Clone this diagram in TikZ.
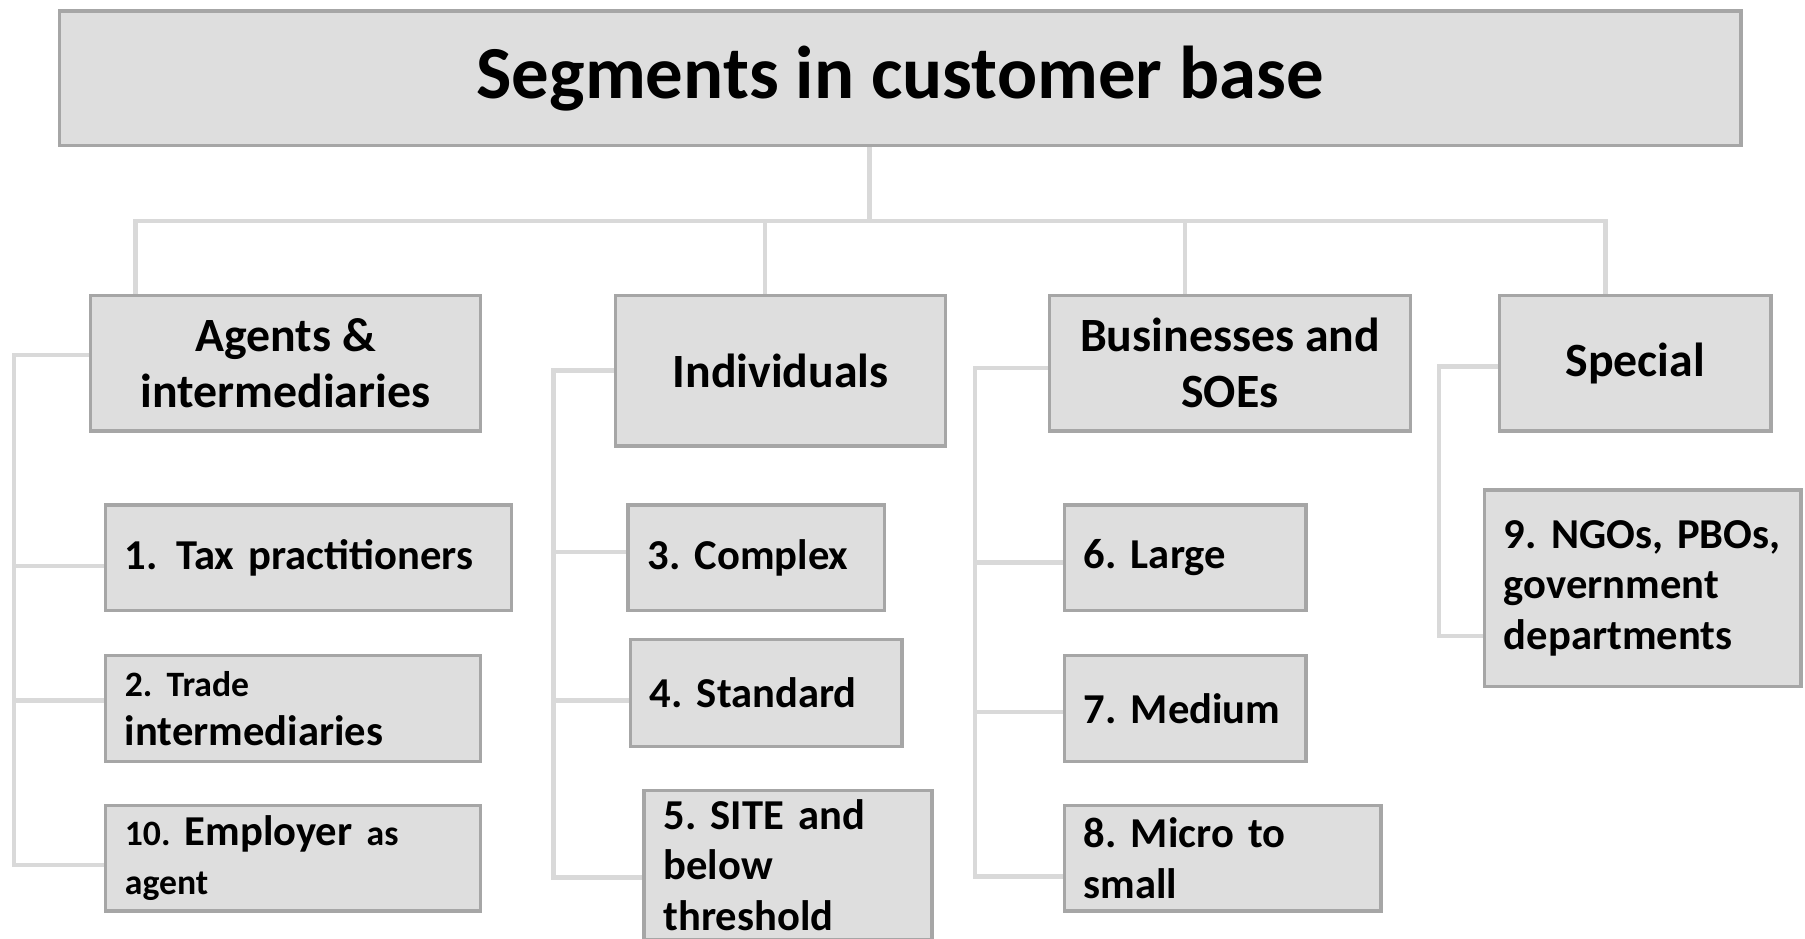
\documentclass[tikz,border=0pt]{standalone}
\usepackage{fontspec}
\setmainfont{Carlito}
\usetikzlibrary{backgrounds}
\definecolor{boxfill}{HTML}{DEDEDE}
\definecolor{boxline}{HTML}{A6A6A6}
\definecolor{connline}{HTML}{D9D9D9}
\frenchspacing
\newcommand{\smalltxt}[1]{{\fontsize{31}{42}\selectfont #1}}
\newcommand{\tightsp}{\spaceskip=0.2em\relax}
\begin{document}
\begin{tikzpicture}[x=1pt,y=-1pt,
  box/.style={draw=boxline,fill=boxfill,line width=3pt,rectangle,anchor=north west,inner ysep=0pt,font=\bfseries},
  headbox/.style={box,align=center,font=\bfseries\fontsize{41.5}{49}\selectfont},
  itembox/.style={box,align=left,inner xsep=17pt,font=\bfseries\fontsize{37}{44}\selectfont\tightsp},
  conn/.style={draw=connline,line width=4pt}]
\clip (0,0) rectangle (1568,815);
\useasboundingbox (0,0) rectangle (1568,815);
\node[box,minimum width=1461pt,minimum height=117pt,font=\bfseries\fontsize{65}{78}\selectfont] (title) at (50,8) {Segments in customer base};
\node[headbox,minimum width=339pt,minimum height=118pt] (agents) at (77,255) {Agents \&\\intermediaries};
\node[headbox,minimum width=287pt,minimum height=131pt] (indiv) at (533,255) {Individuals};
\node[headbox,minimum width=314pt,minimum height=118pt] (bus) at (910,255) {Businesses and\\SOEs};
\node[headbox,minimum width=236pt,minimum height=118pt] (spec) at (1301,255) {Special};
\node[itembox,text width=319pt,minimum height=92pt] (t1) at (90,437) {1.\kern16pt Tax practitioners};
\node[itembox,text width=292pt,minimum height=92pt,font=\bfseries\fontsize{37}{42}\selectfont\tightsp] (t2) at (90,568) {\smalltxt{2. Trade}\\intermediaries};
\node[itembox,text width=292pt,minimum height=92pt,font=\bfseries\fontsize{37}{42}\selectfont\tightsp] (t10) at (90,698) {\smalltxt{10.} Employer \smalltxt{as}\\\smalltxt{agent}};
\node[itembox,text width=189pt,minimum height=92pt] (t3) at (544,437) {3. Complex};
\node[itembox,text width=202pt,minimum height=93pt] (t4) at (546,554) {4. Standard};
\node[itembox,text width=216pt,minimum height=130pt] (t5) at (558,685) {5. SITE and\\below\\threshold};
\node[itembox,text width=176pt,minimum height=92pt] (t6) at (923,437) {6. Large};
\node[itembox,text width=176pt,minimum height=92pt] (t7) at (923,568) {7. Medium};
\node[itembox,text width=241pt,minimum height=92pt] (t8) at (923,698) {8. Micro to\\small};
\node[itembox,text width=241pt,minimum height=171pt] (t9) at (1288,424) {9. NGOs, PBOs,\\government\\departments};
\begin{pgfonlayer}{background}
\coordinate (hub) at ([xshift=-26.5pt,yshift=-64pt]title.south);
\draw[conn] ([xshift=-26.5pt]title.south) -- (hub);
\draw[conn] (hub) -| ([xshift=-130.5pt]agents.north);
\draw[conn] (hub) -| ([xshift=-13.5pt]indiv.north);
\draw[conn] (hub) -| ([xshift=-39pt]bus.north);
\draw[conn] (hub) -| ([xshift=-26pt]spec.north);
\draw[conn] ([yshift=7pt]agents.west) -- ++(-65,0) |- ([yshift=-7pt]t1.west);
\draw[conn] ([yshift=7pt]agents.west) -- ++(-65,0) |- ([yshift=7pt]t2.west);
\draw[conn] ([yshift=7pt]agents.west) -- ++(-65,0) |- ([yshift=-6pt]t10.west);
\draw[conn] (indiv.west) -- ++(-52,0) |- ([yshift=5pt]t3.west);
\draw[conn] (indiv.west) -- ++(-52,0) |- ([yshift=-6.5pt]t4.west);
\draw[conn] (indiv.west) -- ++(-52,0) |- ([yshift=-11pt]t5.west);
\draw[conn] ([yshift=-4pt]bus.west) -- ++(-63,0) |- ([yshift=-4pt]t6.west);
\draw[conn] ([yshift=-4pt]bus.west) -- ++(-63,0) |- ([yshift=-3pt]t7.west);
\draw[conn] ([yshift=-4pt]bus.west) -- ++(-63,0) |- ([yshift=-16pt]t8.west);
\draw[conn] ([yshift=-3pt]spec.west) -- ++(-51,0) |- ([yshift=-41.5pt]t9.west);
\end{pgfonlayer}
\end{tikzpicture}
\end{document}
